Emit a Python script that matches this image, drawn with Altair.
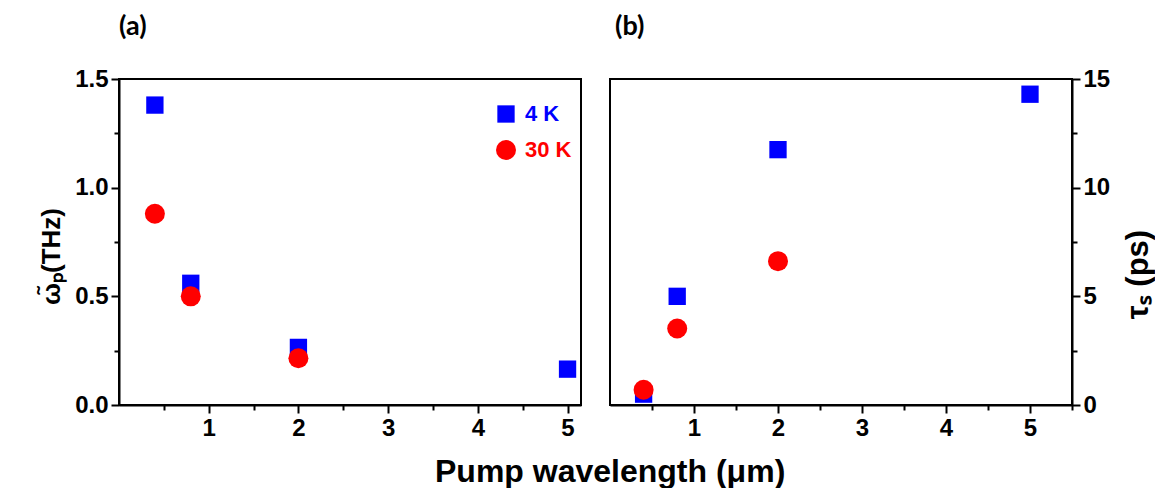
import altair as alt
import pandas as pd

# ---- data ----
wavelength = [0.4, 0.8, 2.0, 5.0]
series = ["4 K", "30 K"]
colors = ["#0000ff", "#ff0000"]
shapes = ["square", "circle"]

omega_4K = [1.38, 0.56, 0.265, 0.165]
omega_30K = [0.88, 0.50, 0.215]
tau_4K = [0.5, 5.0, 11.75, 14.3]
tau_30K = [0.7, 3.52, 6.62]

x_ticks_a = [0.5, 1, 1.5, 2, 2.5, 3, 3.5, 4, 4.5, 5]
x_ticks_b = [0.5, 1, 1.5, 2, 2.5, 3, 3.5, 4, 4.5, 5, 5.5]
y_ticks_a = [0, 0.25, 0.5, 0.75, 1.0, 1.25, 1.5]
y_ticks_b = [0, 2.5, 5, 7.5, 10, 12.5, 15]


def make_df(v4, v30):
    rows = []
    for x, v in zip(wavelength, v4):
        rows.append({"wl": x, "val": v, "series": "4 K"})
    for x, v in zip(wavelength, v30):
        rows.append({"wl": x, "val": v, "series": "30 K"})
    return pd.DataFrame(rows)


df_a = make_df(omega_4K, omega_30K)
df_b = make_df(tau_4K, tau_30K)

FONT = "Liberation Sans"
W, H = 462, 326

common_axis = dict(
    grid=False,
    domainColor="black",
    domainWidth=2,
    tickColor="black",
    tickWidth=2,
    labelFont=FONT,
    labelFontSize=24,
    labelFontWeight="bold",
    labelColor="black",
    titleFont=FONT,
    titleFontWeight="bold",
    titleColor="black",
)

color_scale = alt.Scale(domain=series, range=colors)
shape_scale = alt.Scale(domain=series, range=shapes)
size_scale = alt.Scale(domain=series, range=[300, 400])

legend_a = alt.Legend(
    title=None,
    orient="none",
    legendX=376,
    legendY=24,
    padding=0,
    labelFont=FONT,
    labelFontSize=22,
    labelFontWeight="bold",
    labelColor=alt.ExprRef("datum.label == '4 K' ? '#0000ff' : '#ff0000'"),
    labelOffset=8,
    symbolSize=300,
    symbolStrokeWidth=0,
    rowPadding=14,
)

int_label = "datum.value % 1 == 0 ? format(datum.value, 'd') : ''"

panel_a = alt.Chart(df_a).mark_point(filled=True, opacity=1).encode(
    x=alt.X(
        "wl:Q",
        scale=alt.Scale(domain=[0, 5.15], nice=False, zero=False),
        axis=alt.Axis(
            title=None,
            values=x_ticks_a,
            labelExpr=int_label,
            tickSize={"condition": {"test": "datum.value % 1 != 0", "value": 5}, "value": 8},
            labelPadding=3,
            **common_axis,
        ),
    ),
    y=alt.Y(
        "val:Q",
        scale=alt.Scale(domain=[0, 1.5], nice=False),
        axis=alt.Axis(
            title="ω̃ₚ(THz)",
            titleFontSize=26,
            titlePadding=10,
            titleY=177,
            values=y_ticks_a,
            labelExpr="(datum.value * 4) % 2 == 0 ? format(datum.value, '.1f') : ''",
            tickSize={"condition": {"test": "(datum.value * 4) % 2 != 0", "value": 5}, "value": 8},
            labelPadding=3,
            **common_axis,
        ),
    ),
    color=alt.Color("series:N", scale=color_scale, legend=legend_a),
    shape=alt.Shape("series:N", scale=shape_scale, legend=legend_a),
    size=alt.Size("series:N", scale=size_scale, legend=None),
).properties(
    width=W,
    height=H,
    title=alt.TitleParams(
        "(a)", anchor="start", frame="group", font="Lato", fontSize=27,
        fontWeight="bold", color="black", offset=26, dx=0,
    ),
)

panel_b = alt.Chart(df_b).mark_point(filled=True, opacity=1).encode(
    x=alt.X(
        "wl:Q",
        scale=alt.Scale(domain=[0, 5.5], nice=False, zero=False),
        axis=alt.Axis(
            title=None,
            values=x_ticks_b,
            labelExpr=int_label,
            tickSize={"condition": {"test": "datum.value % 1 != 0", "value": 5}, "value": 8},
            labelPadding=3,
            **common_axis,
        ),
    ),
    y=alt.Y(
        "val:Q",
        scale=alt.Scale(domain=[0, 15], nice=False),
        axis=alt.Axis(
            title="τₛ (ps)",
            orient="right",
            titleAngle=270,
            titleFontSize=31,
            titlePadding=45,
            titleY=195,
            values=y_ticks_b,
            labelExpr="datum.value % 5 == 0 ? format(datum.value, 'd') : ''",
            tickSize={"condition": {"test": "datum.value % 5 != 0", "value": 5}, "value": 8},
            labelPadding=3,
            **common_axis,
        ),
    ),
    color=alt.Color("series:N", scale=color_scale, legend=None),
    shape=alt.Shape("series:N", scale=shape_scale, legend=None),
    size=alt.Size("series:N", scale=size_scale, legend=None),
).properties(
    width=W,
    height=H,
    title=alt.TitleParams(
        "(b)", anchor="start", frame="group", font="Lato", fontSize=27,
        fontWeight="bold", color="black", offset=26, dx=5,
    ),
)

chart = (
    alt.hconcat(panel_a, panel_b, spacing=27)
    .resolve_scale(color="independent", shape="independent", size="independent")
    .resolve_legend(color="independent", shape="independent")
    .properties(
        title=alt.TitleParams(
            "Pump wavelength (μm)", orient="bottom", anchor="middle",
            font=FONT, fontSize=32, fontWeight="bold", color="black",
            offset=16, dx=14,
        ),
        padding={"left": 29, "top": 4, "right": 0, "bottom": 0},
        background="white",
    )
    .configure_view(stroke="black", strokeWidth=2)
)

chart.save("out.html", embed_options={"renderer": "svg", "actions": False})
